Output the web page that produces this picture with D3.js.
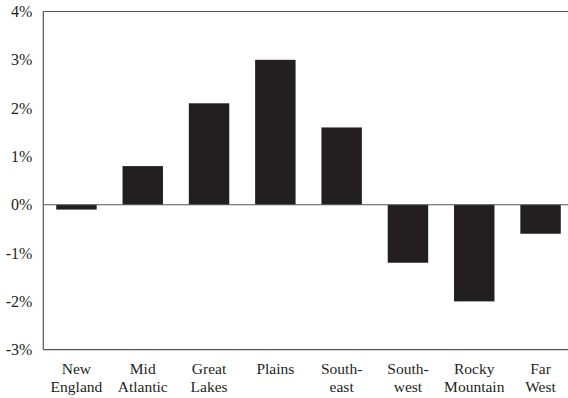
<!DOCTYPE html>
<html>
<head>
<meta charset="utf-8">
<script src="https://cdn.jsdelivr.net/npm/d3@7"></script>
<style>
  html, body { margin: 0; padding: 0; background: #fff; }
  svg { display: block; }
  text { font-family: "Liberation Serif", "Times New Roman", serif; fill: #231f20; }
</style>
</head>
<body>
<svg id="chart" width="568" height="398"></svg>
<script>
const categories = [["New", "England"], ["Mid", "Atlantic"], ["Great", "Lakes"], ["Plains"], ["South-", "east"], ["South-", "west"], ["Rocky", "Mountain"], ["Far", "West"]];
const values = [-0.1, 0.8, 2.1, 3.0, 1.6, -1.2, -2.0, -0.6];
const yTicks = [-3, -2, -1, 0, 1, 2, 3, 4];

(function () {
const svg = d3.select("#chart");
const mLeft = 43.3, mRight = 573.7, mTop = 11.5, mBottom = 349.7;

const keys = categories.map((c, i) => i);
const x = d3.scaleBand().domain(keys).range([mLeft, mRight]).paddingInner(0.39).paddingOuter(0.195);
const y = d3.scaleLinear().domain([-3, 4]).range([mBottom, mTop]);

// bars
svg.append("g").selectAll("rect").data(values).join("rect")
  .attr("x", (d, i) => x(i))
  .attr("width", x.bandwidth())
  .attr("y", d => y(Math.max(0, d)))
  .attr("height", d => Math.abs(y(d) - y(0)))
  .attr("fill", "#231f20");

// frame lines
const lineColor = "#555";
svg.append("line").attr("x1", mLeft).attr("x2", 568).attr("y1", mTop).attr("y2", mTop)
  .attr("stroke", lineColor).attr("stroke-width", 1.2);
svg.append("line").attr("x1", mLeft).attr("x2", 568).attr("y1", mBottom).attr("y2", mBottom)
  .attr("stroke", lineColor).attr("stroke-width", 1.2);
svg.append("line").attr("x1", mLeft).attr("x2", mLeft).attr("y1", mTop).attr("y2", mBottom)
  .attr("stroke", lineColor).attr("stroke-width", 1.2);
svg.append("line").attr("x1", mLeft).attr("x2", 568).attr("y1", y(0)).attr("y2", y(0))
  .attr("stroke", lineColor).attr("stroke-width", 1.2);

// y axis labels
const yAxis = d3.axisLeft(y).tickValues(yTicks).tickSize(0).tickPadding(11)
  .tickFormat(d => d + "%");
const gy = svg.append("g").attr("transform", `translate(${mLeft},0)`).call(yAxis);
gy.select(".domain").remove();
gy.selectAll("text").attr("font-size", 16).style("font-family", '"Liberation Serif", serif').attr("fill", "#231f20");

// x labels
const gx = svg.append("g");
categories.forEach((lines, i) => {
  const cx = x(i) + x.bandwidth() / 2;
  const t = gx.append("text")
    .attr("x", cx)
    .attr("y", 374)
    .attr("text-anchor", "middle")
    .attr("font-size", 15.5);
  lines.forEach((ln, j) => {
    t.append("tspan").attr("x", cx).attr("dy", j === 0 ? 0 : 18).text(ln);
  });
});
})();
</script>
</body>
</html>
